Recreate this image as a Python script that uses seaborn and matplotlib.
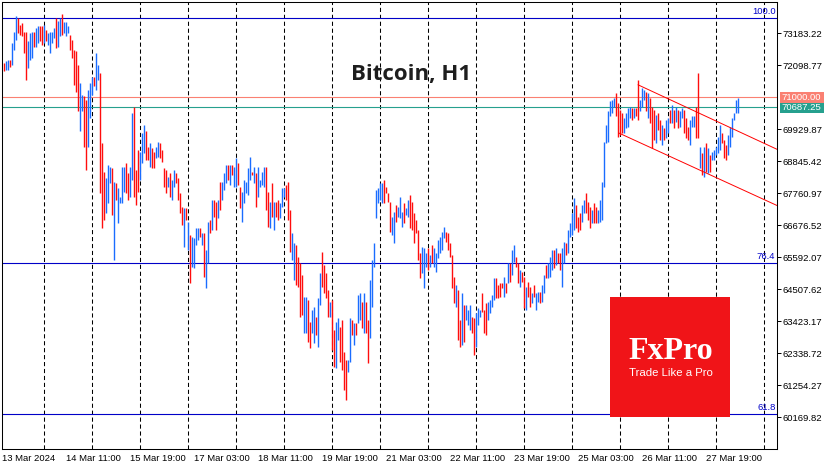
import matplotlib
matplotlib.use("Agg")
import matplotlib.pyplot as plt
import matplotlib.transforms as mtransforms
from matplotlib.patches import Rectangle
import seaborn as sns
import numpy as np
import pandas as pd

# hourly BTCUSD bars, 13 Mar 04:00 .. 28 Mar 11:00 (2024)
highs = [
    72162, 72241, 72275, 72275, 72839, 73234, 73742, 73686, 73460, 73517,
    73234, 73234, 72896, 73178, 73234, 73234, 73347, 73404, 73404, 73404,
    73460, 73291, 73178, 73234, 73234, 73347, 73686, 73573, 73686, 73833,
    73539, 73539, 73404, 73122, 72952, 72613, 72557, 72105, 71485, 71090,
    71033, 70920, 71259, 71485, 71710, 71710, 72501, 72105, 71823, 69452,
    68492, 68267, 68718, 68662, 68606, 68154, 68098, 67928, 67646, 68662,
    68662, 68775, 68436, 68662, 70469, 70694, 68549, 69226, 69170, 69791,
    70073, 69848, 69339, 69452, 69283, 69170, 69339, 69509, 69452, 69226,
    68606, 68549, 68323, 68436, 68211, 68549, 68436, 68267, 67759, 67307,
    67251, 67251, 66799, 66348, 66291, 66235, 66573, 66573, 66573, 66404,
    66404, 65840, 66799, 66855, 67533, 67533, 67477, 67533, 68154, 68154,
    68436, 68718, 68718, 68718, 68718, 68662, 68944, 68775, 67985, 67815,
    68211, 68154, 68606, 69001, 68493, 68662, 68436, 68662, 68211, 68493,
    68662, 68662, 67815, 67477, 68098, 67477, 67477, 67533, 67420, 67928,
    67928, 68041, 68154, 67194, 66404, 66065, 66009, 65614, 65388, 64993,
    64259, 64259, 64146, 63412, 63807, 63920, 63581, 64203, 65050, 65783,
    65332, 65050, 64485, 64090, 64146, 63130, 63412, 63525, 63243, 63469,
    62396, 62114, 62114, 63525, 63469, 63356, 63356, 64315, 64372, 64090,
    64372, 64090, 63469, 64824, 65501, 66065, 67872, 67928, 68098, 68098,
    68211, 67985, 67759, 67477, 66968, 67138, 67364, 67307, 67646, 67138,
    67420, 67251, 67533, 67702, 67477, 67081, 66855, 66517, 65727, 65953,
    65896, 65727, 65896, 65670, 66009, 65896, 65727, 66178, 66291, 66461,
    66630, 66461, 66404, 66065, 65670, 64936, 64654, 64485, 63469, 64372,
    63977, 63977, 63807, 63977, 63581, 63525, 63694, 63864, 63807, 64372,
    63807, 64033, 64090, 64146, 64315, 64880, 64880, 64654, 64711, 64711,
    64936, 64711, 65388, 65388, 65840, 66009, 65614, 65388, 65162, 65106,
    64936, 64598, 64767, 64598, 64372, 64654, 64372, 64428, 64428, 64654,
    64993, 65332, 65388, 65614, 65840, 65840, 65896, 65727, 65727, 65896,
    66122, 66065, 66517, 66743, 67081, 67590, 67364, 66968, 67081, 67364,
    67533, 67759, 67477, 67307, 67194, 67420, 67307, 67194, 67533, 68154,
    69509, 70073, 70525, 70864, 70920, 70976, 71146, 70807, 70581, 70469,
    70299, 70469, 70638, 70694, 70638, 70638, 70638, 71598, 70920, 71315,
    71259, 71202, 71146, 70976, 70694, 70581, 70412, 70469, 70243, 70073,
    69960, 70243, 70299, 70581, 70751, 70581, 70694, 70581, 70525, 70638,
    70581, 70299, 70017, 70243, 70356, 70356, 70694, 71823, 69339, 69113,
    69339, 69452, 69283, 69057, 69170, 69226, 69339, 69678, 70073, 69791,
    69565, 69396, 69735, 70017, 70299, 70469, 70920, 70976,
]
lows = [
    71880, 71914, 71936, 72026, 72105, 72613, 72952, 73178, 73122, 73065,
    72501, 71598, 71993, 72275, 72331, 72726, 72726, 72839, 72896, 72783,
    72839, 72896, 72783, 72501, 72839, 73009, 72670, 72726, 73065, 73122,
    73178, 73065, 73178, 72613, 72331, 71428, 71202, 70525, 69848, 70525,
    69339, 68549, 69339, 70299, 71090, 71372, 71259, 71598, 67759, 66573,
    66855, 67081, 67420, 68098, 67025, 65501, 67533, 66743, 67420, 67420,
    67815, 67759, 67533, 67646, 68211, 67646, 67364, 67815, 68211, 68775,
    69113, 68888, 68888, 68662, 68606, 68606, 68944, 69001, 68944, 68831,
    67985, 67759, 67985, 67646, 67533, 67985, 68098, 67533, 67081, 66686,
    65953, 66855, 65840, 64711, 65275, 65219, 66009, 66178, 66291, 66009,
    64936, 64541, 65388, 66404, 66517, 66968, 66517, 66912, 67194, 67533,
    67872, 68098, 68211, 68041, 68380, 67985, 67985, 68041, 67251, 66799,
    67420, 67759, 67702, 68211, 68380, 68098, 67307, 67646, 67985, 68041,
    67985, 67194, 66630, 66573, 66968, 66517, 66968, 66855, 66912, 67307,
    67646, 67533, 66855, 65783, 65501, 64824, 64654, 64598, 63581, 63638,
    63017, 63017, 62735, 62509, 63017, 62678, 62961, 62565, 63977, 64598,
    64372, 64203, 63581, 63581, 62453, 61888, 61832, 62791, 62058, 61775,
    61098, 60759, 61719, 62058, 62961, 62622, 62961, 63356, 63469, 63186,
    63017, 63017, 62001, 62848, 63920, 65275, 66912, 67420, 67533, 67420,
    67420, 67759, 67477, 66461, 66348, 66065, 66799, 66968, 66912, 66630,
    66743, 67025, 66968, 66573, 66517, 66065, 66404, 65501, 64880, 65050,
    64541, 65275, 65162, 65275, 65388, 65275, 65106, 65557, 65727, 65840,
    66235, 66122, 65840, 65614, 64541, 64033, 63920, 62791, 62565, 62622,
    62735, 63469, 63300, 63130, 63017, 62283, 62565, 63300, 63581, 63751,
    63017, 62961, 63469, 63694, 63920, 64146, 64203, 64203, 64259, 64541,
    64259, 64372, 64711, 64767, 64993, 65445, 65275, 64711, 64598, 64767,
    63864, 63807, 64259, 63920, 64033, 64259, 63807, 64090, 64033, 64090,
    64372, 64880, 64880, 64936, 65162, 65219, 65332, 65388, 65162, 64598,
    65388, 65670, 65727, 66291, 66348, 66517, 66573, 66461, 66517, 66799,
    67081, 67081, 66855, 66573, 66743, 66743, 66743, 66743, 66799, 66855,
    67985, 69452, 69509, 70356, 70469, 70694, 70356, 69678, 69735, 69791,
    69791, 69960, 70017, 70299, 70243, 70299, 70356, 70243, 70525, 70694,
    70920, 70525, 70299, 70130, 69283, 69565, 69452, 69904, 69565, 69396,
    69565, 69622, 69791, 70130, 70130, 69960, 70186, 69960, 70017, 70299,
    69791, 69622, 69565, 69396, 70017, 70017, 69622, 69622, 68606, 68380,
    68323, 68493, 68436, 68493, 68888, 68888, 69057, 69113, 69226, 69452,
    68944, 68888, 69057, 69339, 69678, 70243, 70469, 70469,
]
# u = bull bar, d = bear bar
direction = (
    "duuduuuddd" "dduuuduudd" "uduuuuduud" "uuuddddduu" "dduuuduudd"
    "duuududuuu" "udduuddduu" "uddudduudd" "dduduudddd" "ududuuuudu"
    "duududdudu" "uududuuddu" "uuuududuuu" "uddududduu" "uddduudddd"
    "uudduuduud" "dddudduudd" "dduududuud" "udduuuuuuu" "dddduuduuu"
    "duuddddddu" "uududuuuuu" "uddddduddu" "duuudduuud" "dduuuudddd"
    "ududuuddud" "dudduduudu" "uduuududdu" "uduuuudddu" "udddudduuu"
    "uuuuuudddd" "uuuududduu" "ududdduddu" "duudududuu" "ddduuuddud"
    "ududuuuuud" "dduuuuuu"
)

tick_labels = ["13 Mar 2024", "14 Mar 11:00", "15 Mar 19:00", "17 Mar 03:00",
               "18 Mar 11:00", "19 Mar 19:00", "21 Mar 03:00", "22 Mar 11:00",
               "23 Mar 19:00", "25 Mar 03:00", "26 Mar 11:00", "27 Mar 19:00"]
price_ticks = [73183.22, 72098.77, 69929.87, 68845.42, 67760.97, 66676.52,
               65592.07, 64507.62, 63423.17, 62338.72, 61254.27, 60169.82]
fib_levels = [73688, 65392, 60279]
fib_names = ["100.0", "76.4", "61.8"]
level_71k = 71000.00
last_price = 70687.25
# descending channel (bar index, price)
upper_x, upper_y = [317, 386.5], [71429, 69245]
lower_x, lower_y = [307.5, 386.5], [69794, 67342]

bars = pd.DataFrame({"high": highs, "low": lows, "dir": list(direction)})
bars["bar"] = np.arange(len(bars))

sns.set_style("white")
plt.rcParams["font.family"] = ["Liberation Sans", "DejaVu Sans"]
plt.rcParams["lines.scale_dashes"] = False

W, H = 835, 470
fig = plt.figure(figsize=(W / 100, H / 100), dpi=100)
ax = fig.add_axes([2 / W, 21.5 / H, 775 / W, 446.5 / H])

blue = "#1a6cff"
red = "#ff0d0d"

# day separators
for d in np.arange(20, 387, 24):
    ax.axvline(d, color="black", lw=0.75, ls=(0, (3, 2)), zorder=1)

for lev in fib_levels:
    ax.axhline(lev, color="#0000c8", lw=0.8, zorder=2)
ax.axhline(level_71k, color="#fa8072", lw=0.8, zorder=2)
ax.axhline(last_price, color="#26a08e", lw=0.8, zorder=2)

for key, col in (("u", blue), ("d", red)):
    sub = bars[bars["dir"] == key]
    ax.vlines(sub["bar"], sub["low"], sub["high"], colors=col, lw=1.0, zorder=3)

sns.lineplot(x=upper_x, y=upper_y, color="#ff0000", lw=0.7, ax=ax, zorder=4)
sns.lineplot(x=lower_x, y=lower_y, color="#ff0000", lw=0.7, ax=ax, zorder=4)

ax.set_xlim(-1, 386.5)
ax.set_ylim(59113, 74233)

ax.set_xticks(np.arange(-1, 352, 32))
ax.set_xticklabels(tick_labels)
for lbl in ax.get_xticklabels():
    lbl.set_horizontalalignment("left")
ax.yaxis.tick_right()
ax.set_yticks(price_ticks)
ax.set_yticklabels([f"{p:.2f}" for p in price_ticks])
ax.tick_params(axis="both", direction="out", length=3, width=0.72,
               labelsize=6.8, colors="black", pad=1)
ax.tick_params(axis="x", pad=1.2)
for s in ax.spines.values():
    s.set_color("black")
    s.set_linewidth(0.75)
    s.set_visible(True)
ax.set_xlabel("")
ax.set_ylabel("")

blend = mtransforms.blended_transform_factory(ax.transAxes, ax.transData)
for lev, name in zip(fib_levels, fib_names):
    ax.text(0.998, lev + 70, name, transform=blend, ha="right", va="bottom",
            color="#0000c8", fontsize=6.8, zorder=5)

# price boxes on the scale
for price, col, y0, y1 in ((last_price, "#26a08e", 70484, 70823),
                           (level_71k, "#fa8072", 70823, 71176)):
    ax.add_patch(Rectangle((1.0039, y0), 0.0568, y1 - y0, transform=blend,
                           facecolor=col, edgecolor="none", clip_on=False, zorder=6))
    ax.text(1.0052, (y0 + y1) / 2, f"{price:.2f}", transform=blend, ha="left",
            va="center", color="white", fontsize=6.8, zorder=7, clip_on=False)

fig.text(411 / W, 1 - 80 / H, "Bitcoin, H1", ha="center", va="baseline",
         fontsize=16, fontweight="bold", family="Open Sans", color="#1e1e1e")

# FxPro badge
fig.patches.append(Rectangle((610 / W, 1 - 416.7 / H), 120 / W, 120 / H,
                             transform=fig.transFigure, facecolor="#f01418",
                             edgecolor="none", zorder=5))
fig.text(670.5 / W, 1 - 359 / H, "FxPro", ha="center", va="baseline",
         fontsize=23, fontweight="bold", family="Liberation Serif",
         color="white", zorder=6)
fig.text(670.5 / W, 1 - 376 / H, "Trade Like a Pro", ha="center", va="baseline",
         fontsize=8.2, family="Liberation Sans", color="white", zorder=6)

fig.savefig("out.png", dpi=100, facecolor="white")
